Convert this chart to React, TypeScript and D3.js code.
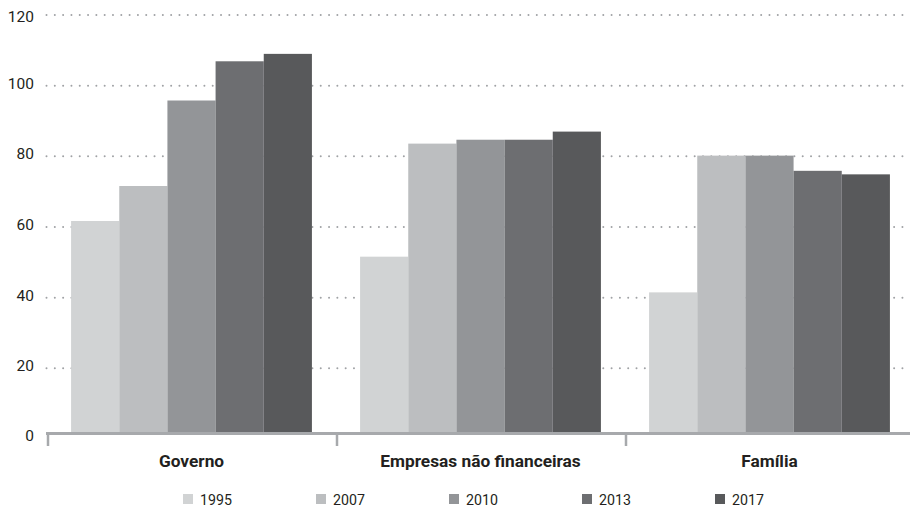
import React from "react";
import * as d3 from "d3";

const categories = ["Governo", "Empresas não financeiras", "Família"];
const years = ["1995", "2007", "2010", "2013", "2017"];
const governo = [61.7, 71.6, 95.8, 106.9, 109.0];
const empresas = [51.6, 83.6, 84.7, 84.7, 87.0];
const familia = [41.5, 80.2, 80.2, 75.9, 74.9];
const seriesByCategory = [governo, empresas, familia];
const yTicks = [0, 20, 40, 60, 80, 100, 120];
const colors = ["#d1d3d4", "#bcbec0", "#939598", "#6d6e71", "#58595b"];

const W = 910;
const H = 507;
const FONT = "Roboto, 'DejaVu Sans', sans-serif";
const TEXT = "#231f20";
const AXIS = "#a7a9ac";

export default function App() {
  const x = d3.scaleBand<string>().domain(categories).range([47, 914]).paddingInner(0).paddingOuter(0);
  const xi = d3.scaleBand<string>().domain(years).range([0, x.bandwidth()]).paddingInner(0).paddingOuter(0.5);
  const y = d3.scaleLinear().domain([0, 120]).range([439, 15]);
  const axisY = 433.5;
  const barBottom = 432;

  return (
    <div style={{ position: "absolute", left: 0, top: 0 }}>
      <svg width={W} height={H} style={{ display: "block", background: "#fff" }}>
        {yTicks.filter((t) => t > 0).map((t) => (
          <line
            key={"g" + t}
            x1={46.5}
            x2={910}
            y1={y(t)}
            y2={y(t)}
            stroke="#a0a2a5"
            strokeWidth={2}
            strokeLinecap="round"
            strokeDasharray="0.01 8.3"
          />
        ))}
        {yTicks.map((t) => (
          <text
            key={"t" + t}
            x={34}
            y={t === 0 ? axisY + 2.5 : y(t) + (t === 120 ? 1.5 : -2)}
            textAnchor="end"
            dominantBaseline="central"
            fontFamily={FONT}
            fontSize={15.5}
            fill={TEXT}
          >
            {t}
          </text>
        ))}
        {categories.map((c, ci) => (
          <g key={c} transform={`translate(${x(c)},0)`}>
            {seriesByCategory[ci].map((v, i) => (
              <rect
                key={years[i]}
                x={xi(years[i])}
                y={y(v)}
                width={xi.bandwidth()}
                height={barBottom - y(v)}
                fill={colors[i]}
              />
            ))}
          </g>
        ))}
        <line x1={46} x2={910} y1={axisY} y2={axisY} stroke={AXIS} strokeWidth={3} />
        {[...categories.map((c) => x(c) as number)].map((px, i) => (
          <line key={"tk" + i} x1={px + 1} x2={px + 1} y1={axisY} y2={446} stroke={AXIS} strokeWidth={2.5} />
        ))}
        {categories.map((c) => (
          <text
            key={"c" + c}
            x={(x(c) as number) + x.bandwidth() / 2}
            y={466.5}
            textAnchor="middle"
            fontFamily={FONT}
            fontWeight="bold"
            fontSize={17.3}
            fill={TEXT}
          >
            {c}
          </text>
        ))}
        {years.map((yr, i) => (
          <g key={"l" + yr} transform={`translate(${183 + i * 133},0)`}>
            <rect x={0} y={494} width={10} height={10} fill={colors[i]} />
            <text x={17} y={504.5} fontFamily={FONT} fontSize={14.2} fill={TEXT}>
              {yr}
            </text>
          </g>
        ))}
      </svg>
    </div>
  );
}
